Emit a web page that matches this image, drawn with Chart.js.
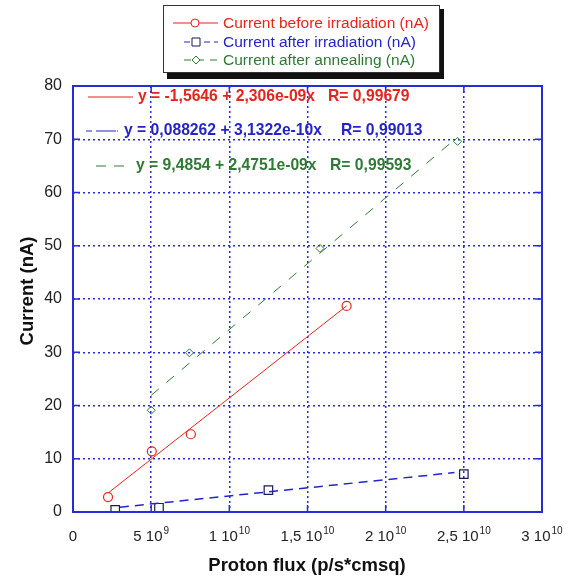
<!DOCTYPE html>
<html>
<head>
<meta charset="utf-8">
<script src="https://cdn.jsdelivr.net/npm/chart.js@4/dist/chart.umd.min.js"></script>
<style>
  html, body { margin: 0; padding: 0; background: #fff; }
  #wrap { width: 570px; height: 578px; position: relative; }
</style>
</head>
<body>
<div id="wrap"><canvas id="chart"></canvas></div>
<script>
// measured points
var fluxBefore = [2.24e9, 5.04e9, 7.54e9, 17.5e9];
var currentBefore = [2.8, 11.4, 14.6, 38.7];
var fluxAfter = [2.7e9, 5.5e9, 12.5e9, 25.0e9];
var currentAfter = [0.4, 0.8, 4.1, 7.1];
var fluxAnneal = [5.0e9, 7.45e9, 15.8e9, 24.6e9];
var currentAnneal = [19.1, 29.9, 49.5, 69.6];

// fit line ends
var fitBeforeX = [2.3e9, 17.5e9];
var fitBeforeY = [3.7, 38.7];
var fitAfterX = [3.0e9, 24.4e9];
var fitAfterY = [0.9, 7.4];
var fitAnnealX = [5.0e9, 24.4e9];
var fitAnnealY = [21.9, 69.9];

var xTicks = [0, 5e9, 1e10, 1.5e10, 2e10, 2.5e10, 3e10];
var xTickBase = ['0', '5 10', '1 10', '1,5 10', '2 10', '2,5 10', '3 10'];
var xTickExp = ['', '9', '10', '10', '10', '10', '10'];

var seriesNames = ['Current before irradiation (nA)', 'Current after irradiation (nA)', 'Current after annealing (nA)'];
var fitEquations = ['y = -1,5646 + 2,306e-09x', 'y = 0,088262 + 3,1322e-10x', 'y = 9,4854 + 2,4751e-09x'];
var fitR = ['R= 0,99679', 'R= 0,99013', 'R= 0,99593'];

var RED = '#e8231c', BLUE = '#2424c8', GREEN = '#2f7a34', AXIS = '#2a2ad6';
var FONT = '"Liberation Sans", Arial, sans-serif';

function pts(xs, ys) {
    return xs.map(function (x, i) { return { x: x, y: ys[i] }; });
}

var extras = {
    id: 'extras',
    afterDraw: function (chart) {
        var ctx = chart.ctx;
        var a = chart.chartArea;
        var xs = chart.scales.x, ys = chart.scales.y;
        ctx.save();

        // frame + inner tick marks
        ctx.strokeStyle = AXIS;
        ctx.lineWidth = 2;
        ctx.setLineDash([]);
        ctx.strokeRect(a.left, a.top, a.right - a.left, a.bottom - a.top);
        ctx.lineWidth = 1.5;
        ctx.beginPath();
        xTicks.forEach(function (v) {
            var px = xs.getPixelForValue(v);
            ctx.moveTo(px, a.bottom); ctx.lineTo(px, a.bottom - 7);
            ctx.moveTo(px, a.top); ctx.lineTo(px, a.top + 7);
        });
        for (var v = 0; v <= 80; v += 10) {
            var py = ys.getPixelForValue(v);
            ctx.moveTo(a.left, py); ctx.lineTo(a.left + 7, py);
            ctx.moveTo(a.right, py); ctx.lineTo(a.right - 7, py);
        }
        ctx.stroke();

        // x tick labels with exponents
        ctx.fillStyle = '#222';
        ctx.textBaseline = 'alphabetic';
        ctx.textAlign = 'left';
        xTicks.forEach(function (v, i) {
            var px = xs.getPixelForValue(v);
            ctx.font = '15px ' + FONT;
            var wb = ctx.measureText(xTickBase[i]).width;
            ctx.font = '10px ' + FONT;
            var we = xTickExp[i] ? ctx.measureText(xTickExp[i]).width + 1 : 0;
            var x0 = px - (wb + we) / 2;
            ctx.font = '15px ' + FONT;
            ctx.fillText(xTickBase[i], x0, 541);
            if (xTickExp[i]) {
                ctx.font = '10px ' + FONT;
                ctx.fillText(xTickExp[i], x0 + wb + 1, 534);
            }
        });

        // axis titles
        ctx.font = 'bold 18.5px ' + FONT;
        ctx.fillStyle = '#111';
        ctx.textAlign = 'center';
        ctx.textBaseline = 'middle';
        ctx.fillText('Proton flux (p/s*cmsq)', 307, 566);
        ctx.save();
        ctx.translate(28, 291);
        ctx.rotate(-Math.PI / 2);
        ctx.fillText('Current (nA)', 0, 0);
        ctx.restore();

        // legend box with shadow
        ctx.fillStyle = '#111';
        ctx.fillRect(167, 9, 277, 70);
        ctx.fillStyle = '#fff';
        ctx.fillRect(163, 5, 277, 68);
        ctx.strokeStyle = '#333';
        ctx.lineWidth = 1;
        ctx.strokeRect(163.5, 5.5, 276, 67);

        var rows = [23, 42, 60];
        var colors = [RED, BLUE, GREEN];
        ctx.font = '15.5px ' + FONT;
        ctx.textAlign = 'left';
        ctx.textBaseline = 'middle';
        rows.forEach(function (ry, i) {
            ctx.strokeStyle = colors[i];
            ctx.lineWidth = 1;
            ctx.setLineDash(i === 0 ? [] : (i === 1 ? [6, 4] : [7, 6]));
            ctx.beginPath();
            ctx.moveTo(i === 0 ? 173 : 184, ry);
            ctx.lineTo(218, ry);
            ctx.stroke();
            ctx.setLineDash([]);
            ctx.fillStyle = '#fff';
            ctx.beginPath();
            if (i === 0) {
                ctx.strokeStyle = RED;
                ctx.arc(195, ry, 4, 0, Math.PI * 2);
            } else if (i === 1) {
                ctx.strokeStyle = '#1a1a55';
                ctx.rect(192, ry - 4, 8, 8);
            } else {
                ctx.strokeStyle = GREEN;
                ctx.moveTo(192, ry); ctx.lineTo(196, ry - 4); ctx.lineTo(200, ry); ctx.lineTo(196, ry + 4); ctx.closePath();
            }
            ctx.fill();
            ctx.stroke();
            ctx.fillStyle = colors[i];
            ctx.fillText(seriesNames[i], 223, ry + 1);
        });

        // fit equations in the plot
        var eqRows = [97, 131, 166];
        var sampleFrom = [88, 86, 96];
        var sampleTo = [133, 118, 124];
        var textX = [138, 124, 136];
        var rX = [328, 341, 330];
        ctx.font = 'bold 15.7px ' + FONT;
        eqRows.forEach(function (ry, i) {
            ctx.strokeStyle = colors[i];
            ctx.lineWidth = 1.2;
            ctx.setLineDash(i === 0 ? [] : (i === 1 ? [6, 4, 20, 1] : [10, 8]));
            ctx.beginPath();
            ctx.moveTo(sampleFrom[i], ry);
            ctx.lineTo(sampleTo[i], ry);
            ctx.stroke();
            ctx.setLineDash([]);
            ctx.fillStyle = colors[i];
            ctx.fillText(fitEquations[i], textX[i], ry);
            ctx.fillText(fitR[i], rX[i], ry);
        });

        ctx.restore();
    }
};

new Chart(document.getElementById('chart'), {
    type: 'scatter',
    data: {
        datasets: [
            { label: 'fitBefore', data: pts(fitBeforeX, fitBeforeY), showLine: true, borderColor: RED, borderWidth: 1, pointRadius: 0 },
            { label: 'fitAfter', data: pts(fitAfterX, fitAfterY), showLine: true, borderColor: BLUE, borderWidth: 1.5, borderDash: [9, 6], pointRadius: 0 },
            { label: 'fitAnneal', data: pts(fitAnnealX, fitAnnealY), showLine: true, borderColor: GREEN, borderWidth: 1, borderDash: [10, 10], pointRadius: 0 },
            { label: seriesNames[0], data: pts(fluxBefore, currentBefore), pointStyle: 'circle', pointRadius: 4.5, borderColor: RED, backgroundColor: 'rgba(255,255,255,0)', borderWidth: 1.2 },
            { label: seriesNames[1], data: pts(fluxAfter, currentAfter), pointStyle: 'rect', pointRadius: 6, borderColor: '#1a1a55', backgroundColor: 'rgba(255,255,255,0)', borderWidth: 1.2 },
            { label: seriesNames[2], data: pts(fluxAnneal, currentAnneal), pointStyle: 'rectRot', pointRadius: 4, borderColor: GREEN, backgroundColor: 'rgba(255,255,255,0)', borderWidth: 1 }
        ]
    },
    options: {
        responsive: true,
        maintainAspectRatio: false,
        animation: false,
        layout: { padding: { top: 86, right: 28, left: 0, bottom: 0 } },
        plugins: { legend: { display: false }, tooltip: { enabled: false } },
        scales: {
            x: {
                type: 'linear', min: 0, max: 3e10,
                afterFit: function (s) { s.height = 66; },
                afterBuildTicks: function (s) { s.ticks = xTicks.map(function (v) { return { value: v }; }); },
                ticks: { display: false },
                grid: { color: AXIS, lineWidth: 1.5, drawTicks: false },
                border: { display: false, dash: [2, 3] }
            },
            y: {
                min: 0, max: 80,
                afterFit: function (s) { s.width = 73; },
                ticks: { stepSize: 10, padding: 11, color: '#222', font: { family: FONT, size: 16 } },
                grid: { color: AXIS, lineWidth: 1.5, drawTicks: false },
                border: { display: false, dash: [2, 3] }
            }
        }
    },
    plugins: [extras]
});
</script>
</body>
</html>
